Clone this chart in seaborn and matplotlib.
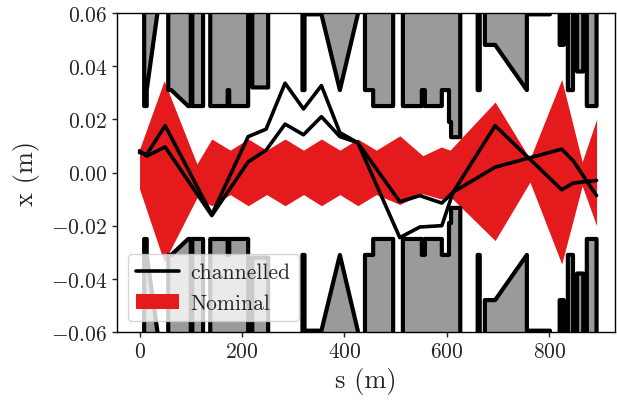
import numpy as np
import pandas as pd
import matplotlib
matplotlib.use("Agg")
import matplotlib.pyplot as plt
import seaborn as sns
from matplotlib.lines import Line2D
from matplotlib.patches import Patch

# ---------------- data ----------------
# aperture half-width (m) along s (m) (mirrored for the negative side)
aperture_s = [-50, 9, 9, 14, 14, 35, 35, 56, 56, 62, 95, 100, 100, 103, 103, 124, 124, 138, 138,
              172, 172, 175, 175, 212, 212, 220, 220, 251, 251, 318, 318, 322, 322, 355, 391, 426,
              426, 440, 440, 456, 456, 495, 495, 514, 514, 551, 551, 557, 557, 590, 590, 604, 604,
              608, 608, 626, 626, 660, 660, 664, 664, 674, 674, 694, 756, 756, 801, 801, 820, 820,
              828, 828, 836, 836, 846, 846, 854, 854, 866, 866, 873, 873, 892, 892, 950]
aperture_x = [0.1, 0.1, 0.025, 0.025, 0.031, 0.06, 0.1, 0.1, 0.031, 0.031, 0.025, 0.025, 0.1, 0.1,
              0.025, 0.025, 0.1, 0.1, 0.025, 0.025, 0.031, 0.031, 0.025, 0.025, 0.1, 0.1, 0.032,
              0.032, 0.1, 0.1, 0.031, 0.031, 0.0595, 0.0595, 0.031, 0.0595, 0.1, 0.1, 0.031, 0.031,
              0.025, 0.025, 0.1, 0.1, 0.025, 0.025, 0.031, 0.031, 0.025, 0.025, 0.031, 0.031,
              0.019, 0.019, 0.0133, 0.0133, 0.1, 0.1, 0.031, 0.031, 0.1, 0.1, 0.048, 0.048, 0.031,
              0.0595, 0.0595, 0.1, 0.1, 0.048, 0.048, 0.1, 0.1, 0.031, 0.031, 0.1, 0.1, 0.038,
              0.038, 0.1, 0.1, 0.025, 0.025, 0.1, 0.1]

# nominal beam envelope
nominal_s = [0, 48, 112, 141, 177, 212, 248, 284, 320, 355, 391, 426, 462, 508, 553, 589, 606,
             694, 762, 824, 864, 892]
nominal_upper = [0.0087, 0.0345, 0.0032, 0.0126, 0.0084, 0.0126, 0.0084, 0.0126, 0.0084, 0.0126,
                 0.0084, 0.0126, 0.0084, 0.0138, 0.0063, 0.0096, 0.0084, 0.0265, 0.0051, 0.0350,
                 0.0040, 0.0200]
nominal_lower = [-0.0062, -0.0337, -0.0095, -0.0125, -0.0083, -0.0125, -0.0083, -0.0125, -0.0083,
                 -0.0125, -0.0083, -0.0125, -0.0083, -0.0120, -0.0080, -0.0100, -0.0090, -0.0256,
                 -0.0036, -0.0344, -0.0050, -0.0200]

# channelled trajectories
channel_s = [0, 14, 50, 141, 212, 247, 284, 320, 355, 391, 426, 508, 547, 590, 612, 694, 824, 846, 892]
channel_a = [0.0075, 0.0068, 0.0176, -0.0158, 0.0135, 0.0163, 0.0336, 0.0239, 0.0327, 0.0150,
             0.0112, -0.0245, -0.0205, -0.0200, -0.0074, 0.0020, 0.0088, 0.0045, -0.0087]
channel_b = [0.0082, 0.0062, 0.0096, -0.0162, 0.0040, 0.0084, 0.0182, 0.0142, 0.0210, 0.0135,
             0.0112, -0.0110, -0.0087, -0.0115, -0.0074, 0.0176, -0.0065, -0.0040, -0.0030]

xticks = [0, 200, 400, 600, 800]
yticks = [-0.06, -0.04, -0.02, 0.00, 0.02, 0.04, 0.06]

# ---------------- style ----------------
sns.set_style("ticks")
plt.rcParams.update({
    "font.family": "serif",
    "font.serif": ["cmr10", "DejaVu Serif"],
    "mathtext.fontset": "cm",
    "axes.formatter.use_mathtext": True,
    "axes.linewidth": 1.0,
    "axes.edgecolor": "black",
})

fig = plt.figure(figsize=(6.17, 4.06), dpi=100)
ax = fig.add_axes([117 / 617, 73 / 406, 498 / 617, 319 / 406])

RED = "#e41a1c"
GREY = "#9a9a9a"

# nominal band
ax.fill_between(nominal_s, nominal_lower, nominal_upper, color=RED, lw=0, zorder=1)

# aperture
ap_s = np.array(aperture_s)
ap_x = np.array(aperture_x)
ax.fill_between(ap_s, ap_x, 0.2, color=GREY, lw=0, zorder=2)
ax.fill_between(ap_s, -ap_x, -0.2, color=GREY, lw=0, zorder=2)
ap_df = pd.DataFrame({"s": np.concatenate([ap_s, ap_s]),
                      "x": np.concatenate([ap_x, -ap_x]),
                      "side": ["up"] * len(ap_s) + ["down"] * len(ap_s)})
sns.lineplot(data=ap_df, x="s", y="x", units="side", estimator=None, sort=False,
             color="black", lw=3.0, ax=ax, zorder=3, legend=False)

# channelled trajectories
ch_df = pd.DataFrame({"s": channel_s * 2, "x": channel_a + channel_b,
                      "run": ["a"] * len(channel_s) + ["b"] * len(channel_s)})
sns.lineplot(data=ch_df, x="s", y="x", units="run", estimator=None, sort=False,
             color="black", lw=2.6, ax=ax, zorder=4, legend=False)

ax.set_xlim(-44, 928)
ax.set_ylim(-0.06, 0.06)
ax.set_xticks(xticks)
ax.set_yticks(yticks)
ax.yaxis.set_major_formatter(matplotlib.ticker.FuncFormatter(lambda v, p: "$%.2f$" % v))
ax.xaxis.set_major_formatter(matplotlib.ticker.FuncFormatter(lambda v, p: "$%d$" % v))
ax.tick_params(labelsize=15.5, length=3.5, width=1.0, direction="out")
ax.set_xlabel("s (m)", fontsize=19, labelpad=4)
ax.set_ylabel("x (m)", fontsize=19, labelpad=8)
for sp in ax.spines.values():
    sp.set_visible(True)

handles = [Line2D([], [], color="black", lw=2.6), Patch(facecolor=RED, edgecolor="none")]
leg = ax.legend(handles, ["channelled", "Nominal"], loc="lower left", fontsize=15.5,
                handletextpad=0.5, framealpha=0.8, fancybox=True, edgecolor="#cccccc")
leg.set_zorder(10)

fig.savefig("out.png", dpi=100)
